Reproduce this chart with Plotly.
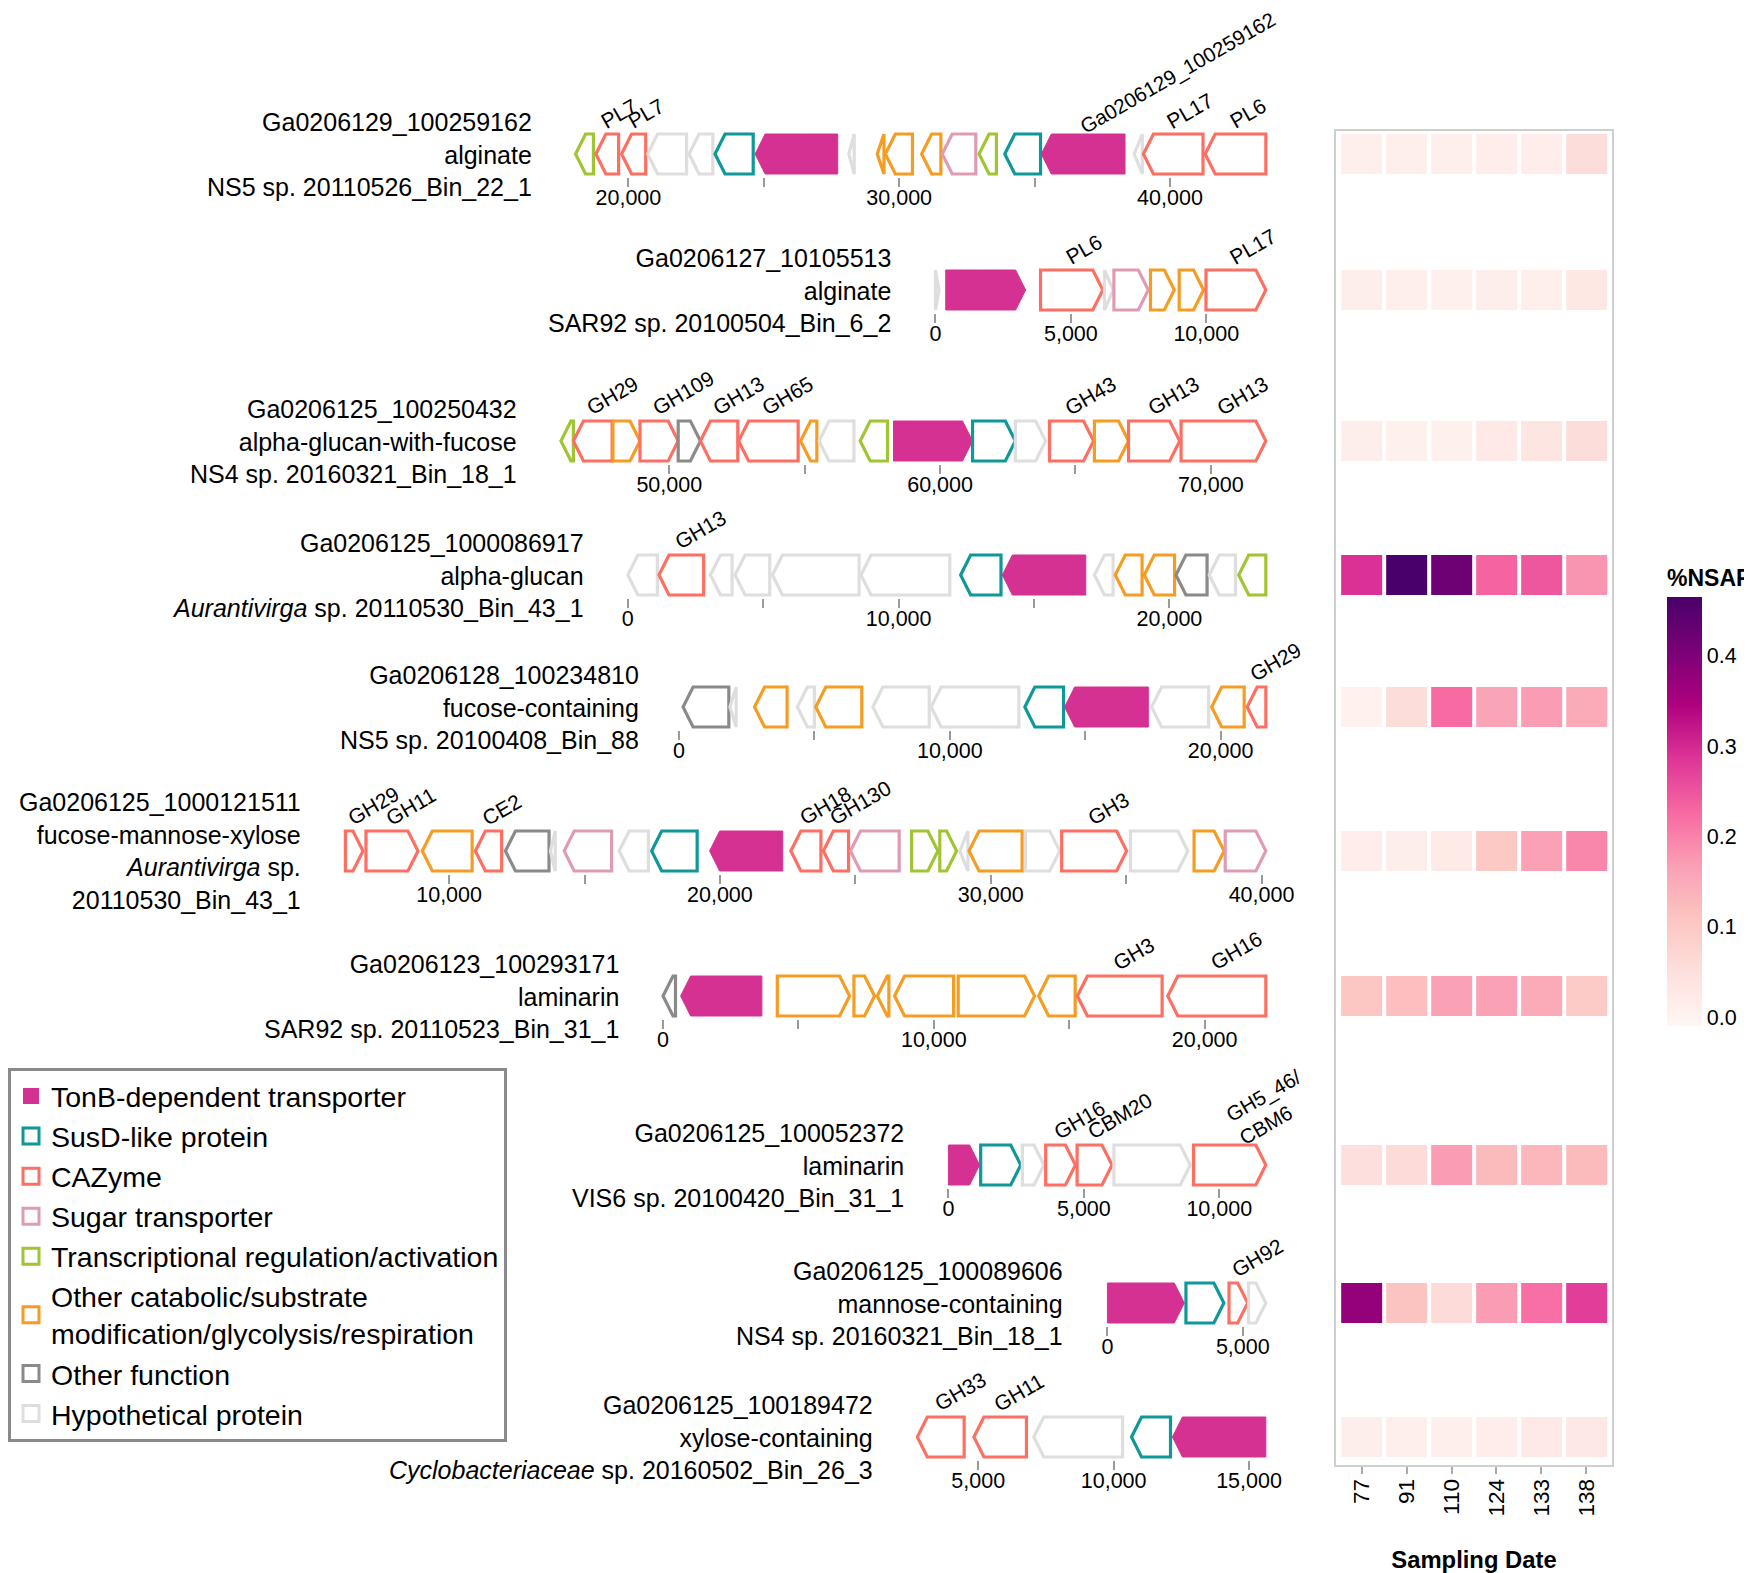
import plotly.graph_objects as go

PAGE_W, PAGE_H = 1752, 1573
OFF = 8  # default page body margin in the browser
FIG_W, FIG_H = PAGE_W - OFF, PAGE_H - OFF
FONT = "Liberation Sans, Arial, Helvetica, sans-serif"

# ---------------- heatmap data ----------------
sampling_dates = ["77", "91", "110", "124", "133", "138"]
nsaf_r1 = [0.010, 0.010, 0.010, 0.015, 0.015, 0.055]
nsaf_r2 = [0.012, 0.010, 0.008, 0.012, 0.010, 0.030]
nsaf_r3 = [0.012, 0.008, 0.006, 0.025, 0.035, 0.055]
nsaf_r4 = [0.290, 0.465, 0.420, 0.232, 0.247, 0.180]
nsaf_r5 = [0.004, 0.057, 0.225, 0.160, 0.170, 0.150]
nsaf_r6 = [0.015, 0.012, 0.020, 0.100, 0.165, 0.194]
nsaf_r7 = [0.105, 0.120, 0.165, 0.165, 0.150, 0.095]
nsaf_r8 = [0.050, 0.060, 0.170, 0.125, 0.130, 0.125]
nsaf_r9 = [0.376, 0.110, 0.060, 0.170, 0.220, 0.275]
nsaf_r10 = [0.012, 0.010, 0.010, 0.015, 0.025, 0.028]
nsaf_rows = [nsaf_r1, nsaf_r2, nsaf_r3, nsaf_r4, nsaf_r5,
             nsaf_r6, nsaf_r7, nsaf_r8, nsaf_r9, nsaf_r10]

# ---------------- cluster labels ----------------
cluster_ids = ["Ga0206129_100259162", "Ga0206127_10105513", "Ga0206125_100250432",
               "Ga0206125_1000086917", "Ga0206128_100234810", "Ga0206125_1000121511",
               "Ga0206123_100293171", "Ga0206125_100052372", "Ga0206125_100089606",
               "Ga0206125_100189472"]
cluster_substrates = ["alginate", "alginate", "alpha-glucan-with-fucose", "alpha-glucan",
                      "fucose-containing", "fucose-mannose-xylose", "laminarin", "laminarin",
                      "mannose-containing", "xylose-containing"]
cluster_taxa = ["NS5 sp. 20110526_Bin_22_1", "SAR92 sp. 20100504_Bin_6_2",
                "NS4 sp. 20160321_Bin_18_1", "<i>Aurantivirga</i> sp. 20110530_Bin_43_1",
                "NS5 sp. 20100408_Bin_88", "<i>Aurantivirga</i> sp.<br>20110530_Bin_43_1",
                "SAR92 sp. 20110523_Bin_31_1", "VIS6 sp. 20100420_Bin_31_1",
                "NS4 sp. 20160321_Bin_18_1", "<i>Cyclobacteriaceae</i> sp. 20160502_Bin_26_3"]

# ---------------- gene categories ----------------
cat_codes = ["TonB", "SusD", "CAZ", "Sugar", "TR", "Other", "OtherFn", "Hyp"]
cat_names = ["TonB-dependent transporter", "SusD-like protein", "CAZyme", "Sugar transporter",
             "Transcriptional regulation/activation",
             "Other catabolic/substrate<br>modification/glycolysis/respiration",
             "Other function", "Hypothetical protein"]
cat_colors = ["#d53193", "#0f9899", "#fd6f62", "#e09bb4", "#a0c533", "#f59c23", "#8a8a8a", "#dedede"]

# ---------------- gene tracks (bp) ----------------
t1_start = [18050, 18800, 19750, 20710, 22240, 23200, 24680, 28140, 29190, 29490, 30830, 31590,
            32950, 33900, 35250, 38680, 39020, 41300]
t1_end = [18710, 19640, 20640, 22150, 23120, 24610, 27730, 28340, 29440, 30490, 31540, 32830,
          33590, 35220, 38340, 38980, 41220, 43540]
t1_strand = [-1] * 18
t1_type = ["TR", "CAZ", "CAZ", "Hyp", "Hyp", "SusD", "TonB", "Hyp", "Other", "Other", "Other",
           "Sugar", "TR", "SusD", "TonB", "Hyp", "CAZ", "CAZ"]
t1_label = ["", "PL7", "PL7", "", "", "", "", "", "", "", "", "", "", "",
            "Ga0206129_100259162", "", "PL17", "PL6"]

t2_start = [0, 380, 3880, 6240, 6590, 7940, 9000, 9990]
t2_end = [130, 3330, 6180, 6570, 7860, 8820, 9900, 12200]
t2_strand = [1] * 8
t2_type = ["Hyp", "TonB", "CAZ", "Hyp", "Sugar", "Other", "Other", "CAZ"]
t2_label = ["", "", "PL6", "", "", "", "", "PL17"]

t3_start = [46000, 46460, 47920, 48920, 50330, 51150, 52560, 54850, 55530, 57050, 58280, 61200,
            62780, 64040, 65700, 66960, 68900]
t3_end = [46460, 47890, 48920, 50330, 51150, 52530, 54760, 55450, 56820, 58060, 61200, 62780,
          63900, 65670, 66960, 68850, 72030]
t3_strand = [-1, -1, 1, 1, 1, -1, -1, -1, -1, -1, 1, 1, 1, 1, 1, 1, 1]
t3_type = ["TR", "CAZ", "Other", "CAZ", "OtherFn", "CAZ", "CAZ", "Other", "Hyp", "TR", "TonB",
           "SusD", "Hyp", "CAZ", "Other", "CAZ", "CAZ"]
t3_label = ["", "GH29", "", "GH109", "", "GH13", "GH65", "", "", "", "", "", "", "GH43", "",
            "GH13", "GH13"]

t4_start = [0, 1150, 3050, 3960, 5340, 8610, 12290, 13830, 17230, 18000, 19070, 20240, 21470,
            22560]
t4_end = [1090, 2800, 3850, 5240, 8540, 11890, 13780, 16910, 17920, 18990, 20190, 21390, 22440,
          23560]
t4_strand = [-1] * 14
t4_type = ["Hyp", "CAZ", "Hyp", "Hyp", "Hyp", "Hyp", "SusD", "TonB", "Hyp", "Other", "Other",
           "OtherFn", "Hyp", "TR"]
t4_label = ["", "GH13", "", "", "", "", "", "", "", "", "", "", "", ""]

t5_start = [150, 1880, 2790, 4370, 5050, 7160, 9310, 12770, 14240, 17450, 19670, 20980]
t5_end = [1840, 2110, 3990, 5000, 6750, 9240, 12550, 14200, 17330, 19560, 20870, 21670]
t5_strand = [-1] * 12
t5_type = ["OtherFn", "Hyp", "Other", "Hyp", "Other", "Hyp", "Hyp", "SusD", "TonB", "Hyp",
           "Other", "CAZ"]
t5_label = ["", "", "", "", "", "", "", "", "", "", "", "GH29"]

t6_start = [6170, 6930, 9010, 10970, 12080, 13740, 14250, 16280, 17480, 19620, 22620, 23820,
            24820, 27080, 28120, 28860, 29200, 31280, 32620, 35160, 37510, 38660]
t6_end = [6820, 8850, 10850, 11940, 13690, 13920, 16000, 17360, 19160, 22320, 23730, 24750,
          26620, 28050, 28740, 29160, 31160, 32550, 35020, 37280, 38620, 40160]
t6_strand = [1, 1, -1, -1, -1, -1, -1, -1, -1, -1, -1, -1, -1, 1, 1, -1, -1, 1, 1, 1, 1, 1]
t6_type = ["CAZ", "CAZ", "Other", "CAZ", "OtherFn", "Hyp", "Sugar", "Hyp", "SusD", "TonB", "CAZ",
           "CAZ", "Sugar", "TR", "TR", "Hyp", "Other", "Hyp", "CAZ", "Hyp", "Other", "Sugar"]
t6_label = ["GH29", "GH11", "", "CE2", "", "", "", "", "", "", "GH18", "GH130", "", "", "", "",
            "", "", "GH3", "", "", ""]

t7_start = [0, 650, 4220, 7050, 7910, 8550, 10900, 13870, 15300, 18640]
t7_end = [460, 3650, 6890, 7810, 8340, 10730, 13720, 15220, 18430, 22260]
t7_strand = [-1, -1, 1, 1, -1, -1, 1, -1, -1, -1]
t7_type = ["OtherFn", "TonB", "Other", "Other", "Other", "Other", "Other", "Other", "CAZ", "CAZ"]
t7_label = ["", "", "", "", "", "", "", "", "GH3", "GH16"]

t8_start = [0, 1190, 2730, 3590, 4750, 6110, 9050]
t8_end = [1150, 2670, 3530, 4690, 6040, 8930, 11720]
t8_strand = [1] * 7
t8_type = ["TonB", "SusD", "Hyp", "CAZ", "CAZ", "Hyp", "CAZ"]
t8_label = ["", "", "", "GH16", "CBM20", "", "GH5_46/<br>CBM6"]

t9_start = [0, 2900, 4490, 5210]
t9_end = [2840, 4300, 5180, 5850]
t9_strand = [1] * 4
t9_type = ["TonB", "SusD", "CAZ", "Hyp"]
t9_label = ["", "", "GH92", ""]

t10_start = [2750, 4840, 7050, 10660, 12170]
t10_end = [4480, 6780, 10330, 12100, 15620]
t10_strand = [-1] * 5
t10_type = ["CAZ", "CAZ", "Hyp", "SusD", "TonB"]
t10_label = ["GH33", "GH11", "", "", ""]

tracks = [
    (t1_start, t1_end, t1_strand, t1_type, t1_label),
    (t2_start, t2_end, t2_strand, t2_type, t2_label),
    (t3_start, t3_end, t3_strand, t3_type, t3_label),
    (t4_start, t4_end, t4_strand, t4_type, t4_label),
    (t5_start, t5_end, t5_strand, t5_type, t5_label),
    (t6_start, t6_end, t6_strand, t6_type, t6_label),
    (t7_start, t7_end, t7_strand, t7_type, t7_label),
    (t8_start, t8_end, t8_strand, t8_type, t8_label),
    (t9_start, t9_end, t9_strand, t9_type, t9_label),
    (t10_start, t10_end, t10_strand, t10_type, t10_label),
]

# ---------------- layout geometry (page pixels) ----------------
TRACK_CENTER_PX = [154, 290, 441, 575, 707, 851, 996, 1165, 1303, 1437]
TRACK_HALF_PX = 23
GENE_X0_PX, GENE_X1_PX = 330, 1268
PX_PER_KB = 27.08
HEAD_PX = 10
END_PAD_BP = 80
HEAT_X0_PX, HEAT_X1_PX = 1336, 1612
HEAT_Y0_PX, HEAT_Y1_PX = 131, 1465


def px_x(p):
    return (p - OFF) / FIG_W


def px_y(p):
    return 1 - (p - OFF) / FIG_H


span_bp = (GENE_X1_PX - GENE_X0_PX) / PX_PER_KB * 1000.0
head_bp = HEAD_PX / PX_PER_KB * 1000.0
color_of = dict(zip(cat_codes, cat_colors))


def arrow_path(s, e, strand, h=0.5):
    hd = min(head_bp, e - s)
    if strand > 0:
        mid = (s + e - hd) / 2.0
        xs = [mid, e - hd, e, e - hd, s, s, mid]
    else:
        mid = (s + hd + e) / 2.0
        xs = [mid, s + hd, s, s + hd, e, e, mid]
    ys = [h, h, 0, -h, -h, h, h]
    return xs, ys


fig = go.Figure()
annotations = []
layout_axes = {}

for i, (st, en, sd, ty, lb) in enumerate(tracks):
    k = i + 1
    xa, ya = f"x{k}", f"y{k}"
    for s, e, d, t, l in zip(st, en, sd, ty, lb):
        xs, ys = arrow_path(s, e, d)
        col = color_of[t]
        filled = (t == "TonB")
        fig.add_trace(go.Scatter(
            x=xs, y=ys, mode="lines", fill="toself",
            fillcolor=col if filled else "white",
            line=dict(color=col, width=1 if filled else 3.2),
            xaxis=xa, yaxis=ya, showlegend=False, hoverinfo="skip"))
        if l:
            long_label = len(l) > 12
            annotations.append(dict(
                text=l, x=(s + e) / 2.0, y=0.5, xref=xa, yref=ya,
                xanchor="left", yanchor="bottom", textangle=-30, align="left",
                showarrow=False, xshift=-10 if long_label else -13,
                yshift=-7 if long_label else -1,
                font=dict(family=FONT, size=20.5 if long_label else 21, color="black")))
    lo, hi = min(st), max(en)
    rng_hi = hi + END_PAD_BP
    ticks = [t for t in range(0, int(hi) + 1, 5000) if t >= lo - 500]
    label_step = 5000 if (hi - lo) < 15000 else 10000
    ticktext = [f"{t:,}" if t % label_step == 0 else "" for t in ticks]
    layout_axes[f"xaxis{k}"] = dict(
        domain=[px_x(GENE_X0_PX), px_x(GENE_X1_PX)],
        range=[rng_hi - span_bp, rng_hi], anchor=ya,
        tickvals=ticks, ticktext=ticktext, ticks="outside", ticklen=9, tickwidth=1.5,
        tickcolor="#9a9a9a", showline=False, showgrid=False, zeroline=False,
        ticklabelstandoff=-8,
        tickfont=dict(family=FONT, size=21.5, color="black"), fixedrange=True)
    c = TRACK_CENTER_PX[i]
    layout_axes[f"yaxis{k}"] = dict(
        domain=[px_y(c + TRACK_HALF_PX), px_y(c - TRACK_HALF_PX)],
        range=[-0.575, 0.575], anchor=xa, visible=False, fixedrange=True)
    annotations.append(dict(
        text=f"{cluster_ids[i]}<br>{cluster_substrates[i]}<br>{cluster_taxa[i]}",
        x=lo, y=0, xref=xa, yref=ya, xanchor="right", yanchor="middle", align="right",
        showarrow=False, xshift=-42, font=dict(family=FONT, size=25, color="black")))

    # heatmap row sharing this track's vertical band
    fig.add_trace(go.Heatmap(
        x=sampling_dates, y=[0], z=[nsaf_rows[i]], xaxis="x11", yaxis=ya,
        coloraxis="coloraxis", xgap=4, ygap=0, hoverinfo="skip"))

# frame subplot for the heatmap
fig.add_trace(go.Scatter(x=sampling_dates, y=[None] * 6, xaxis="x11", yaxis="y11",
                         mode="markers", showlegend=False, hoverinfo="skip"))

# legend entries
for code, name, col in zip(cat_codes, cat_names, cat_colors):
    filled = (code == "TonB")
    fig.add_trace(go.Scatter(
        x=[None], y=[None], mode="markers", name=name, xaxis="x1", yaxis="y1",
        marker=dict(symbol="square" if filled else "square-open", size=16, color=col,
                    line=dict(width=0 if filled else 3, color=col))))

layout_axes["xaxis11"] = dict(
    domain=[px_x(HEAT_X0_PX), px_x(HEAT_X1_PX)], type="category",
    categoryorder="array", categoryarray=sampling_dates, range=[-0.57, 5.57],
    anchor="y11", ticks="outside", ticklen=7, tickwidth=1.5, tickcolor="#aaaaaa",
    tickangle=-90, tickfont=dict(family=FONT, size=22.5, color="black"),
    ticklabelstandoff=-4,
    showline=True, mirror=True, linecolor="#cfcfcf", linewidth=2,
    showgrid=False, zeroline=False, fixedrange=True,
    title=dict(text="Sampling Date", standoff=36,
               font=dict(family=FONT, size=23.8, color="black", weight="bold")))
layout_axes["yaxis11"] = dict(
    domain=[px_y(HEAT_Y1_PX), px_y(HEAT_Y0_PX)], range=[0, 1], anchor="x11",
    showticklabels=False, ticks="", showline=True, mirror=True, linecolor="#cfcfcf",
    linewidth=2, showgrid=False, zeroline=False, fixedrange=True)

CB_BAR_TOP, CB_BAR_BOT, CB_TITLE_H = 596, 1026, 30

fig.update_layout(
    width=FIG_W, height=FIG_H,
    margin=dict(l=0, r=0, t=0, b=0, pad=0, autoexpand=False),
    paper_bgcolor="white", plot_bgcolor="rgba(0,0,0,0)",
    font=dict(family=FONT, color="black"),
    annotations=annotations,
    coloraxis=dict(
        colorscale="RdPu", cmin=-0.01, cmax=0.465,
        colorbar=dict(
            x=px_x(1667), xanchor="left",
            y=px_y((CB_BAR_TOP - CB_TITLE_H + CB_BAR_BOT) / 2), yanchor="middle",
            len=CB_BAR_BOT - CB_BAR_TOP + CB_TITLE_H, lenmode="pixels",
            thickness=35, thicknessmode="pixels",
            xpad=0, ypad=0, outlinewidth=0, ticks="",
            tickvals=[0, 0.1, 0.2, 0.3, 0.4],
            ticktext=["0.0", "0.1", "0.2", "0.3", "0.4"],
            tickfont=dict(family=FONT, size=21.5, color="black"),
            title=dict(text="%NSAF", side="top",
                       font=dict(family=FONT, size=23, color="black", weight="bold")))),
    legend=dict(
        x=0, y=px_y(1068), xanchor="left", yanchor="top",
        bordercolor="#8a8a8a", borderwidth=3, bgcolor="white",
        font=dict(family=FONT, size=28.5, color="black"), tracegroupgap=0,
        traceorder="normal"),
    **layout_axes,
)

fig.write_html("out.html")
